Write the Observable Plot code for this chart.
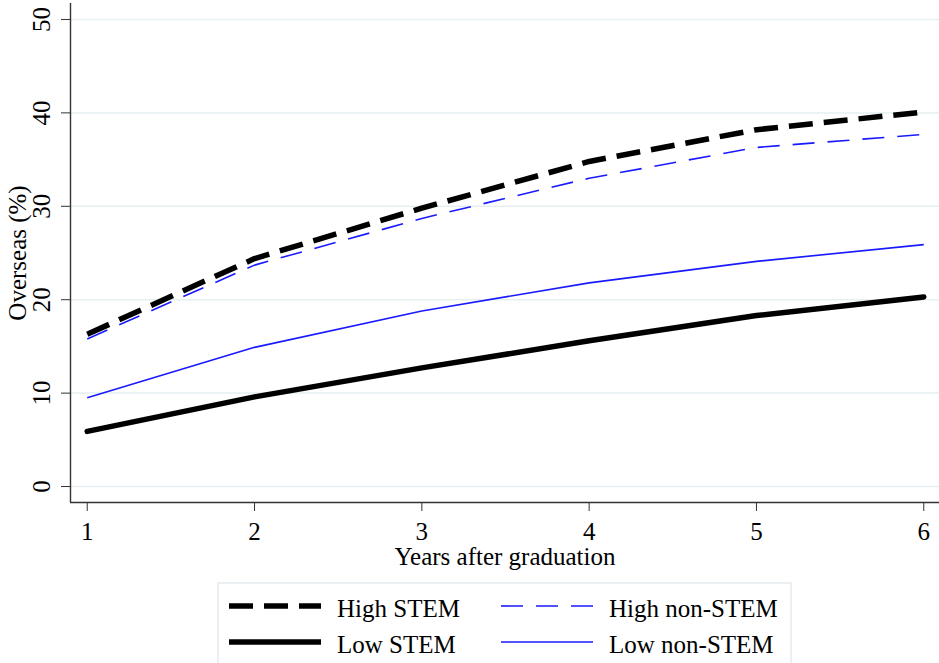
<!DOCTYPE html>
<html><head><meta charset="utf-8">
<script src="https://cdn.jsdelivr.net/npm/d3@7"></script>
<script src="https://cdn.jsdelivr.net/npm/@observablehq/plot@0.6"></script>
<style>body{margin:0;background:#fff;} svg{display:block;}</style>
</head><body><div id="chart"></div><script>
const years = [1, 2, 3, 4, 5, 6];
const highSTEM = [16.3, 24.4, 29.8, 34.8, 38.2, 40.1];
const highNonSTEM = [15.8, 23.7, 28.7, 33.0, 36.3, 37.7];
const lowNonSTEM = [9.5, 14.9, 18.8, 21.8, 24.1, 25.9];
const lowSTEM = [5.9, 9.6, 12.7, 15.6, 18.3, 20.3];
const yTicks = [0, 10, 20, 30, 40, 50];
const xLabel = "Years after graduation";
const yLabel = "Overseas (%)";

const FONT = "'Liberation Serif', 'Times New Roman', Times, serif";
const FS = 25;
const BLUE = "#1a1aff";
const styles = {
  "High STEM": {stroke: "#000", strokeWidth: 5.5, strokeDasharray: "24,11", strokeLinecap: "butt"},
  "High non-STEM": {stroke: BLUE, strokeWidth: 1.6, strokeDasharray: "22,13", strokeLinecap: "butt"},
  "Low STEM": {stroke: "#000", strokeWidth: 5.5, strokeLinecap: "round"},
  "Low non-STEM": {stroke: BLUE, strokeWidth: 1.6, strokeLinecap: "butt"}
};
const toRows = (vals) => years.map((x, i) => ({x, y: vals[i]}));
const xDomain = [0.9, 6.094];
const yDomain = [-1.71, 51.71];

const chart = Plot.plot({
  width: 939,
  height: 570,
  marginLeft: 70,
  marginRight: 0,
  marginTop: 3,
  marginBottom: 68,
  style: {fontFamily: FONT, fontSize: FS + "px", color: "#000", background: "#fff"},
  x: {domain: xDomain, axis: null},
  y: {domain: yDomain, axis: null},
  marks: [
    Plot.ruleY(yTicks, {stroke: "#e6eff1", strokeWidth: 1.5}),
    Plot.ruleX([xDomain[0]], {stroke: "#333", strokeWidth: 1.4}),
    Plot.ruleY([yDomain[0]], {stroke: "#333", strokeWidth: 1.4}),
    Plot.axisX({ticks: years, tickSize: 9, tickPadding: 11, tickFormat: d => String(d), fontSize: FS, label: null, stroke: "#333", fill: "#000"}),
    Plot.axisY({ticks: yTicks, tickSize: 9, tickFormat: () => "", label: null, stroke: "#333"}),
    Plot.text(yTicks, {frameAnchor: "left", y: d => d, text: d => String(d), rotate: -90, dx: -29, fontSize: FS, textAnchor: "middle", lineAnchor: "middle", fill: "#000"}),
    Plot.text([xLabel], {frameAnchor: "bottom", text: d => d, dy: 54, fontSize: FS, textAnchor: "middle", lineAnchor: "middle", fill: "#000"}),
    Plot.text([yLabel], {frameAnchor: "left", text: d => d, rotate: -90, dx: -53, fontSize: FS, textAnchor: "middle", lineAnchor: "middle", fill: "#000"}),
    Plot.line(toRows(lowNonSTEM), {x: "x", y: "y", ...styles["Low non-STEM"]}),
    Plot.line(toRows(highNonSTEM), {x: "x", y: "y", ...styles["High non-STEM"]}),
    Plot.line(toRows(lowSTEM), {x: "x", y: "y", ...styles["Low STEM"]}),
    Plot.line(toRows(highSTEM), {x: "x", y: "y", ...styles["High STEM"]})
  ]
});
document.getElementById("chart").appendChild(chart);

// Legend
const legendItems = [
  {name: "High STEM", col: 0, row: 0},
  {name: "High non-STEM", col: 1, row: 0},
  {name: "Low STEM", col: 0, row: 1},
  {name: "Low non-STEM", col: 1, row: 1}
];
const lg = d3.create("svg").attr("width", 939).attr("height", 93)
  .style("font-family", FONT).style("font-size", FS + "px");
lg.append("rect").attr("x", 218).attr("y", 13).attr("width", 573).attr("height", 120)
  .attr("fill", "#fff").attr("stroke", "#e4ecee").attr("stroke-width", 1.5);
const colX = [229, 501];
const rowY = [36, 72];
for (const it of legendItems) {
  const s = styles[it.name];
  const x0 = colX[it.col], y0 = rowY[it.row];
  lg.append("line").attr("x1", x0).attr("x2", x0 + 92).attr("y1", y0).attr("y2", y0)
    .attr("stroke", s.stroke).attr("stroke-width", s.strokeWidth)
    .attr("stroke-dasharray", s.strokeDasharray || null)
    .attr("stroke-linecap", "butt");
  lg.append("text").attr("x", x0 + 108).attr("y", y0 + 11).attr("fill", "#000").text(it.name);
}
document.getElementById("chart").appendChild(lg.node());
</script></body></html>
